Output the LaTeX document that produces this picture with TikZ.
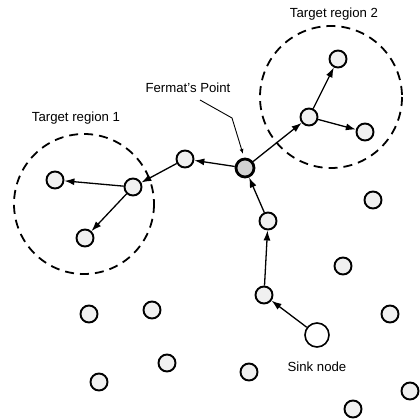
\documentclass[tikz,border=0pt]{standalone}
\usepackage{fontspec}
\setmainfont{Liberation Sans}
\usetikzlibrary{arrows.meta}
\begin{document}
\begin{tikzpicture}[x=1pt,y=-1pt,
  sensor/.style={circle,draw=black,line width=1.9pt,fill=gray!12,minimum size=17pt,inner sep=0pt},
  fermat/.style={sensor,line width=2.8pt,fill=gray!35,minimum size=18pt},
  sink/.style={circle,draw=black,line width=1.6pt,fill=white,minimum size=24pt,inner sep=0pt},
  arr/.style={line width=1.3pt,-{Latex[length=10pt,width=7pt]}},
  region/.style={draw=black,line width=1.8pt,dash pattern=on 9pt off 6pt},
  lbl/.style={font=\fontsize{13.2}{15}\selectfont,inner sep=0pt}]
\useasboundingbox (0,0) rectangle (420,420);
% target regions
\draw[region] (84,204) circle (70);
\draw[region] (331,97) circle (71);
% routing nodes
\node[sensor] (L1a) at (55,180) {};
\node[sensor] (J1) at (133,187) {};
\node[sensor] (L1b) at (85,238) {};
\node[sensor] (N1) at (185,159) {};
\node[fermat] (F) at (245,168) {};
\node[sensor] (J2) at (309,117) {};
\node[sensor] (T2a) at (338,59) {};
\node[sensor] (T2b) at (365,132) {};
\node[sensor] (U1) at (268,221) {};
\node[sensor] (U2) at (264,295) {};
\node[sink] (S) at (317,335) {};
% other nodes
\node[sensor] (o1) at (373,200) {};
\node[sensor] (o2) at (343,266) {};
\node[sensor] (o3) at (390,314) {};
\node[sensor] (o4) at (89,314) {};
\node[sensor] (o5) at (152,310) {};
\node[sensor] (o6) at (167,363) {};
\node[sensor] (o7) at (99,382) {};
\node[sensor] (o8) at (249,372) {};
\node[sensor] (o9) at (410,391) {};
\node[sensor] (o10) at (353,409) {};
% arrows
\draw[arr] (S) -- (U2);
\draw[arr] (U2) -- (U1);
\draw[arr] (U1) -- (F);
\draw[arr] (F) -- (N1);
\draw[arr] (N1) -- (J1);
\draw[arr] (J1) -- (L1a);
\draw[arr] (J1) -- (L1b);
\draw[arr] (F) -- (J2);
\draw[arr] (J2) -- (T2a);
\draw[arr] (J2) -- (T2b);
% labels
\node[lbl] (t1) at (76,118) {Target region 1};
\node[lbl] (t2) at (334,14) {Target region 2};
\node[lbl] (tf) at (188,88) {Fermat’s Point};
\node[lbl] (ts) at (317,367) {Sink node};
% pointer
\coordinate (p1) at (200,100);
\coordinate (p2) at (232,118);
\coordinate (p3) at (243,154);
\draw[line width=0.9pt,-{Latex[length=5pt,width=4pt]}] (p1) -- (p2) -- (p3);
\end{tikzpicture}
\end{document}
